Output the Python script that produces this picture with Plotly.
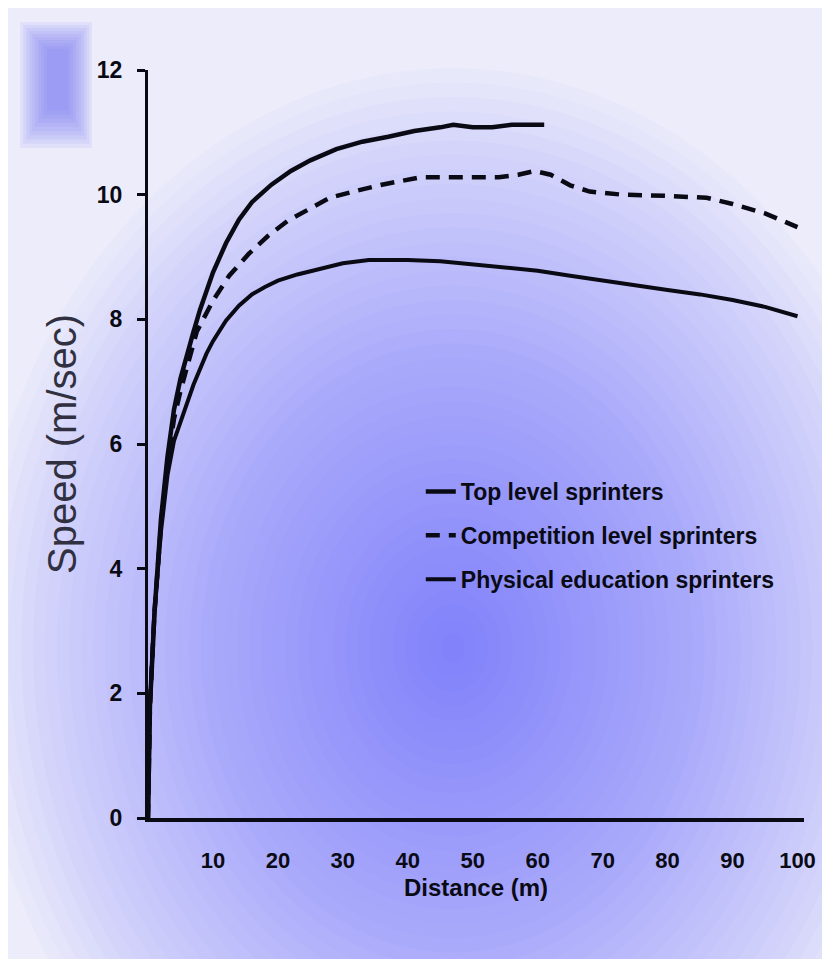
import plotly.graph_objects as go

# ---- data ----
top_d = [0, 0.3, 1, 2, 3, 4, 5, 6, 7, 8, 9, 10, 12, 14, 16, 19, 22, 25, 29, 33, 37, 41, 45, 47, 50, 53, 56, 61]
top_v = [0, 1.8, 3.3, 4.8, 5.8, 6.55, 7.05, 7.45, 7.8, 8.15, 8.45, 8.75, 9.22, 9.6, 9.88, 10.16, 10.38, 10.55,
         10.73, 10.85, 10.93, 11.02, 11.08, 11.12, 11.08, 11.08, 11.12, 11.12]

comp_d = [0, 0.3, 1, 2, 3, 4, 5, 6, 7.5, 10, 12.5, 15.5, 18.5, 21.5, 24.5, 28, 32, 36, 42, 48, 54, 57, 59.5,
          62, 65, 68, 73, 80, 86, 90, 95, 100]
comp_v = [0, 1.8, 3.3, 4.7, 5.7, 6.4, 6.85, 7.25, 7.8, 8.3, 8.7, 9.05, 9.34, 9.58, 9.76, 9.95, 10.06, 10.16,
          10.28, 10.28, 10.28, 10.32, 10.38, 10.32, 10.15, 10.05, 10.0, 9.98, 9.95, 9.85, 9.7, 9.48]

phys_d = [0, 0.3, 1, 2, 3, 4, 5, 6, 7, 8, 9, 10, 12, 14, 16, 18, 20, 23, 26, 30, 34, 40, 45, 50, 55, 60, 65,
          70, 75, 80, 85, 90, 95, 100]
phys_v = [0, 1.8, 3.3, 4.6, 5.5, 6.05, 6.35, 6.65, 6.95, 7.2, 7.45, 7.65, 7.98, 8.22, 8.4, 8.52, 8.62, 8.72,
          8.8, 8.9, 8.95, 8.95, 8.93, 8.88, 8.83, 8.78, 8.7, 8.62, 8.55, 8.47, 8.4, 8.31, 8.2, 8.05]

series_names = ["Top level sprinters", "Competition level sprinters", "Physical education sprinters"]
x_ticks = [10, 20, 30, 40, 50, 60, 70, 80, 90, 100]
y_ticks = [0, 2, 4, 6, 8, 10, 12]

W, H = 830, 959
L, R, T, B = 140, 33.5, 62, 149
PW, PH = W - L - R, H - T - B

def px2x(px):
    return (px - L) / PW

def py2y(py):
    return (H - B - py) / PH

sans = "Liberation Sans, Arial, sans-serif"
ink = "#0a0a14"

fig = go.Figure()
fig.add_trace(go.Scatter(x=top_d, y=top_v, mode="lines", name=series_names[0], legendgroup="a",
                         line=dict(color=ink, width=4.5)))
fig.add_trace(go.Scatter(x=comp_d, y=comp_v, mode="lines", name=series_names[1], legendgroup="b",
                         line=dict(color=ink, width=4.5, dash="14px,9px")))
fig.add_trace(go.Scatter(x=phys_d, y=phys_v, mode="lines", name=series_names[2], legendgroup="c",
                         line=dict(color=ink, width=4)))

# background: soft radial blue glow built from stacked translucent ellipses
shapes = []
cx, cy = 445, 640
N = 40
for i in range(N):
    s = 1.0 - i / N
    rx, ry = 480 * s, 580 * s
    shapes.append(dict(type="circle", xref="paper", yref="paper", layer="below",
                       x0=px2x(cx - rx), x1=px2x(cx + rx), y0=py2y(cy + ry), y1=py2y(cy - ry),
                       fillcolor="rgba(100,100,240,0.022)", line=dict(width=0)))
# blurry blue square at top-left
for k in range(10):
    pad = k * 3
    shapes.append(dict(type="rect", xref="paper", yref="paper", layer="below",
                       x0=px2x(12 + pad), x1=px2x(84 - pad * 0.9), y0=py2y(140 - pad * 1.4), y1=py2y(14 + pad),
                       fillcolor="rgba(110,110,240,0.09)", line=dict(width=0)))

fig.update_layout(
    width=W, height=H,
    margin=dict(l=L, r=R, t=T, b=B, pad=0),
    paper_bgcolor="#ececfb",
    plot_bgcolor="rgba(0,0,0,0)",
    shapes=shapes,
    showlegend=True,
    legend=dict(x=px2x(413), y=py2y(462), xanchor="left", yanchor="top",
                bgcolor="rgba(0,0,0,0)", borderwidth=0, tracegroupgap=11,
                font=dict(family=sans, size=23, color=ink, weight="bold")),
    xaxis=dict(range=[0, 101], tickvals=x_ticks, ticktext=[str(v) for v in x_ticks],
               showgrid=False, zeroline=False, showline=True, linecolor=ink, linewidth=4,
               ticks="", ticklabelstandoff=20,
               tickfont=dict(family=sans, size=22, color=ink, weight="bold"),
               title=dict(text="Distance (m)", standoff=8,
                          font=dict(family=sans, size=24, color=ink, weight="bold"))),
    yaxis=dict(range=[0, 12], tickvals=y_ticks, ticktext=[str(v) for v in y_ticks],
               showgrid=False, zeroline=False, showline=True, linecolor=ink, linewidth=3,
               ticks="outside", ticklen=8, tickwidth=2.5, tickcolor=ink, ticklabelstandoff=10,
               tickfont=dict(family=sans, size=23, color=ink, weight="bold"),
               title=dict(text="Speed (m/sec)", standoff=8,
                          font=dict(family=sans, size=40, color="#303040"))),
)

fig.write_html("out.html")
